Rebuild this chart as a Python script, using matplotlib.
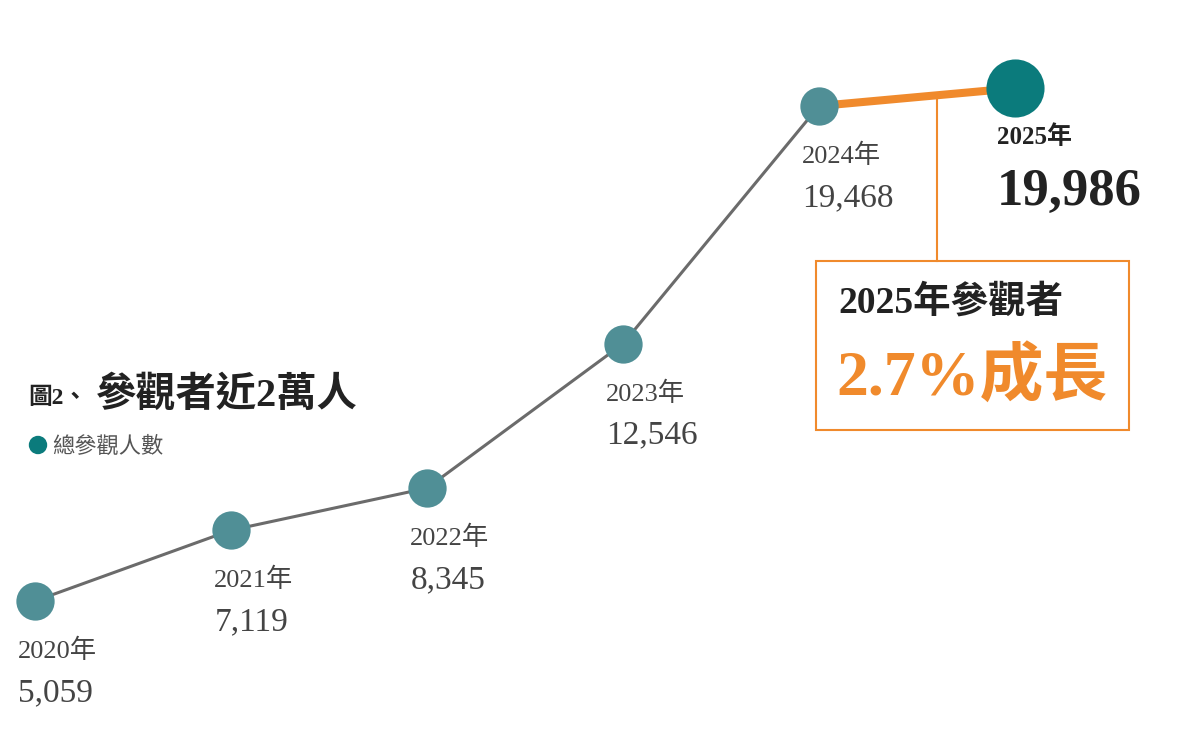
import matplotlib
matplotlib.use("Agg")
import matplotlib.pyplot as plt
from matplotlib.patches import Rectangle, Ellipse

# --- data ---
years = [2020, 2021, 2022, 2023, 2024, 2025]
visitors = [5059, 7119, 8345, 12546, 19468, 19986]
year_labels = [f"{y}年" for y in years]
value_labels = [f"{v:,}" for v in visitors]
title_small = "圖2、"
title_big = "參觀者近2萬人"
legend_label = "總參觀人數"
box_line1 = "2025年參觀者"
box_line2 = "2.7%成長"

SERIF = ["Liberation Serif", "Noto Sans CJK TC", "DejaVu Sans"]
SANS = ["Noto Sans CJK TC", "DejaVu Sans"]
TEAL_SMALL = "#508f96"
TEAL_BIG = "#0b7b7c"
ORANGE = "#f08a2c"
GRAY_LINE = "#6b6b6b"

fig = plt.figure(figsize=(12, 7.39), dpi=100)
ax = fig.add_axes([0, 0, 1, 1])
# pixel layout: 196 px per year, first point at x=35 px
ax.set_xlim(2020 - 35 / 196, 2020 + 1165 / 196)
ax.set_ylim(1042, 22553)
ax.axis("off")

# gray line up to 2024, orange segment to 2025
ax.plot(years[:5], visitors[:5], color=GRAY_LINE, lw=2.2, zorder=1, solid_capstyle="round")
ax.plot(years[4:], visitors[4:], color=ORANGE, lw=5.8, zorder=1, solid_capstyle="butt")

ax.scatter(years[:5], visitors[:5], s=760, color=TEAL_SMALL, zorder=3, linewidths=0)
ax.scatter(years[5:], visitors[5:], s=1750, color=TEAL_BIG, zorder=3, linewidths=0)

# point labels
for i, (yr, v) in enumerate(zip(years, visitors)):
    if yr == 2025:
        ax.annotate(year_labels[i], (yr, v), xytext=(-13, -35), textcoords="offset points",
                    ha="left", va="center", fontsize=18, fontweight="bold",
                    family=SERIF, color="#222222")
        ax.annotate(value_labels[i], (yr, v), xytext=(-13, -75), textcoords="offset points",
                    ha="left", va="center", fontsize=38, fontweight="bold",
                    family=SERIF, color="#222222")
    else:
        ax.annotate(year_labels[i], (yr, v), xytext=(-12, -36), textcoords="offset points",
                    ha="left", va="center", fontsize=19, family=SERIF, color="#444444")
        ax.annotate(value_labels[i], (yr, v), xytext=(-12, -66), textcoords="offset points",
                    ha="left", va="center", fontsize=24, family=SERIF, color="#444444")

# callout box (figure pixel coords)
W, H = 1200, 739
bx0, bx1, by_top, by_bot = 816, 1129, 261, 430
box = Rectangle((bx0 / W, 1 - by_bot / H), (bx1 - bx0) / W, (by_bot - by_top) / H,
                transform=fig.transFigure, fill=False, edgecolor=ORANGE, lw=1.5)
fig.patches.append(box)

# connector from the orange segment down to the box
frac = 0.6
cx = years[4] + frac * (years[5] - years[4])
cy = visitors[4] + frac * (visitors[5] - visitors[4])
top_data = ax.transData.inverted().transform(fig.transFigure.transform((0, 1 - by_top / H)))
ax.plot([cx, cx], [cy, top_data[1]], color=ORANGE, lw=1.5, zorder=0)

fig.text(838 / W, 1 - 303 / H, box_line1, ha="left", va="center", fontsize=27,
         fontweight="bold", family=SERIF, color="#222222")
fig.text(836 / W, 1 - 378 / H, box_line2, ha="left", va="center", fontsize=46,
         fontweight="bold", family=SERIF, color=ORANGE)

# title and legend
fig.text(28 / W, 1 - 398 / H, title_small, ha="left", va="center", fontsize=17,
         fontweight="bold", family=SERIF, color="#222222")
fig.text(96 / W, 1 - 396 / H, title_big, ha="left", va="center", fontsize=29,
         fontweight="bold", family=SERIF, color="#222222")
fig.patches.append(Ellipse((38 / W, 1 - 445 / H), 17 / W, 17 / H,
                           transform=fig.transFigure, color=TEAL_BIG))
fig.text(52 / W, 1 - 446 / H, legend_label, ha="left", va="center", fontsize=16,
         family=SANS, color="#555555")

fig.savefig("out.png", dpi=100, facecolor="white")
